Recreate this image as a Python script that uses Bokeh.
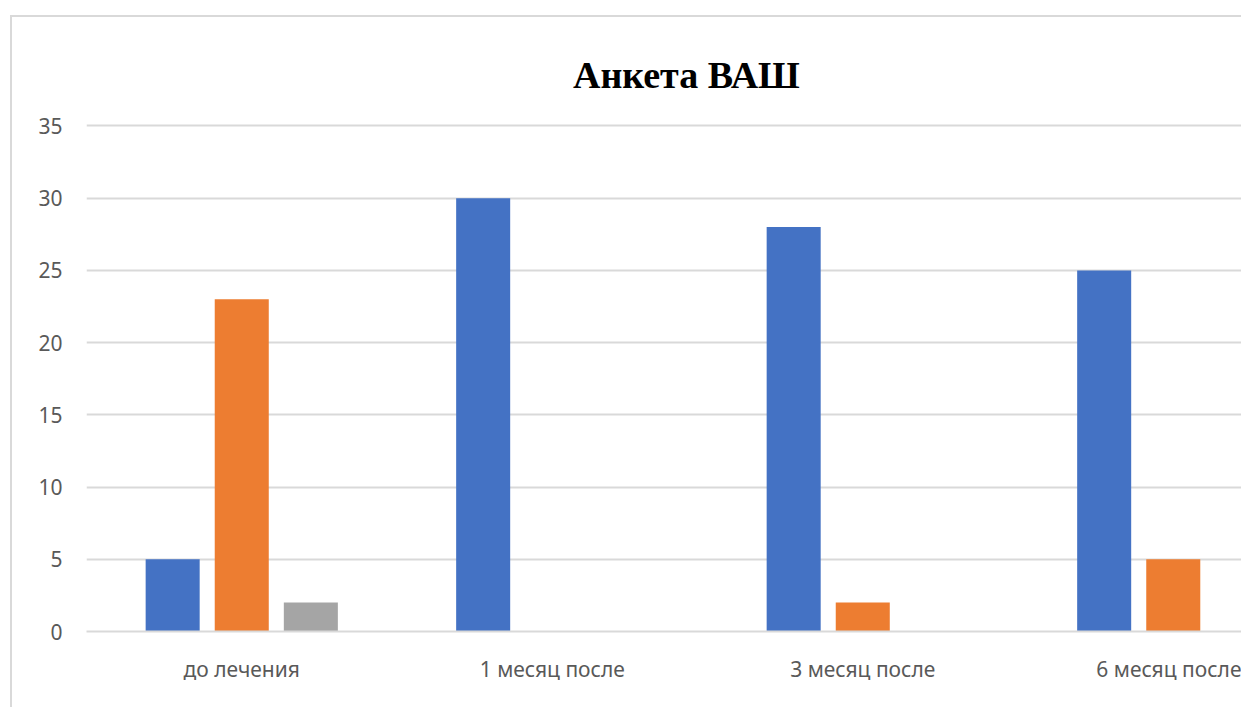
from bokeh.plotting import figure
from bokeh.models import FixedTicker, ColumnDataSource
from bokeh.core.properties import value
from bokeh.embed import file_html
from bokeh.resources import INLINE

# Survey data (ВАШ questionnaire), counts per period and answer group
categories = ["до лечения", "1 месяц после", "3 месяц после", "6 месяц после"]
series_1 = [5, 30, 28, 25]
series_2 = [23, 0, 2, 5]
series_3 = [2, 0, 0, 0]
y_ticks = [0, 5, 10, 15, 20, 25, 30, 35]
title_text = "Анкета ВАШ"

colors = ["#4472C4", "#ED7D31", "#A5A5A5"]
offsets = [-0.2225, 0.0, 0.2225]
bar_width = 0.174

p = figure(
    width=1231, height=692,
    x_range=(0, 3.7262), y_range=(0, 42.51),
    output_backend="svg", toolbar_location=None,
    min_border_left=74, min_border_right=0,
    min_border_top=0, min_border_bottom=78,
    margin=(15, 0, 0, 10),
    styles={"border-left": "2px solid #d9d9d9", "border-top": "2px solid #d9d9d9"},
)
p.outline_line_color = None
p.background_fill_color = "white"
p.border_fill_color = "white"

centers = [i + 0.5 for i in range(len(categories))]
for vals, off, col in zip([series_1, series_2, series_3], offsets, colors):
    src = ColumnDataSource(dict(x=[c + off for c in centers], top=vals))
    p.vbar(x="x", top="top", bottom=0, width=bar_width, source=src,
           fill_color=col, line_color=None)

# Chart title, placed inside the plotting area above the grid
p.text(x=[1.932], y=[38.5], text=[title_text],
       text_font=value("Liberation Serif"), text_font_style="bold",
       text_font_size="38px", text_color="black",
       text_align="center", text_baseline="alphabetic")

# Axes
p.xaxis.ticker = FixedTicker(ticks=centers)
p.xaxis.major_label_overrides = {c: lab for c, lab in zip(centers, categories)}
p.yaxis.ticker = FixedTicker(ticks=y_ticks)
for ax in (p.xaxis[0], p.yaxis[0]):
    ax.major_tick_line_color = None
    ax.minor_tick_line_color = None
    ax.major_tick_out = 0
    ax.major_tick_in = 0
    ax.major_label_text_font = "Noto Sans"
    ax.major_label_text_font_size = "21px"
    ax.major_label_text_color = "#595959"
p.yaxis.axis_line_color = None
p.yaxis.major_label_standoff = 24
p.xaxis.axis_line_color = "#d9d9d9"
p.xaxis.axis_line_width = 2
p.xaxis.major_label_standoff = 23

p.xgrid.grid_line_color = None
p.ygrid.ticker = FixedTicker(ticks=y_ticks)
p.ygrid.grid_line_color = "#d9d9d9"
p.ygrid.grid_line_width = 2

open("out.html", "w").write(file_html(p, INLINE))
